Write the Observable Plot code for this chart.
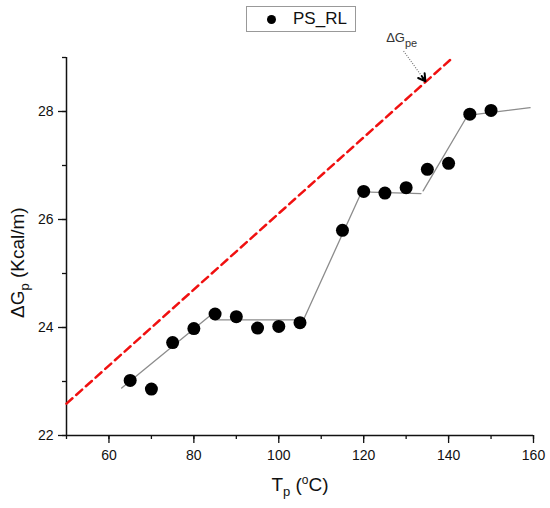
<!DOCTYPE html>
<html>
<head>
<meta charset="utf-8">
<script src="https://cdn.jsdelivr.net/npm/d3@7"></script>
<script src="https://cdn.jsdelivr.net/npm/@observablehq/plot@0.6"></script>
<style>
  body { margin: 0; background: white; }
  #wrap { position: relative; width: 550px; height: 508px; font-family: Arial, "Liberation Sans", sans-serif; }
  #legend {
    position: absolute; left: 246px; top: 6px; width: 108px; height: 24px;
    border: 1px solid #999; display: flex; align-items: center; font-size: 17px; color: #111;
    background: white;
  }
  #legend .sw { width: 9px; height: 9px; border-radius: 50%; background: #000; margin-left: 20px; }
  #legend .lab { margin-left: 17px; }
</style>
</head>
<body>
<div id="wrap">
  <div id="chart"></div>
  <div id="legend"><span class="sw"></span><span class="lab">PS_RL</span></div>
</div>
<script>
// measured points (PS_RL)
const temps = [65, 70, 75, 80, 85, 90, 95, 100, 105, 115, 120, 125, 130, 135, 140, 145, 150];
const dG = [23.02, 22.86, 23.72, 23.98, 24.25, 24.20, 23.99, 24.02, 24.09, 25.80, 26.52, 26.49, 26.59, 26.93, 27.04, 27.95, 28.02];

// piecewise fit drawn in grey
const fitSeg = ["a", "a", "b", "b", "b", "b", "c", "c", "c"];
const fitX = [63, 84, 85, 105.8, 119.5, 133.5, 134, 144.5, 159.2];
const fitY = [22.88, 24.23, 24.14, 24.14, 26.51, 26.48, 26.53, 27.93, 28.07];

// ΔGpe reference line (red dashed)
const peX = [50, 141];
const peY = [22.59, 29.0];

// annotation arrow + label
const arrowFrom = [129.4, 29.12];
const arrowTo = [134.55, 28.56];
const peLabelAt = [125.3, 29.36];
const yLabelAt = 25.2; // y-axis title is not centred on the frame

const xMinor = d3.range(50, 161, 10);
const xMajor = [60, 80, 100, 120, 140, 160];
const yMinor = [22, 23, 24, 25, 26, 27, 28, 29];
const yMajor = [22, 24, 26, 28];

const points = temps.map((t, i) => ({t, g: dG[i]}));
const fit = fitX.map((x, i) => ({x, y: fitY[i], seg: fitSeg[i]}));
const pe = peX.map((x, i) => ({x, y: peY[i]}));
const arrow = [{x1: arrowFrom[0], y1: arrowFrom[1], x2: arrowTo[0], y2: arrowTo[1]}];

const plot = Plot.plot({
  width: 550,
  height: 508,
  marginLeft: 66,
  marginRight: 17,
  marginTop: 57,
  marginBottom: 73,
  x: {domain: [50, 160]},
  y: {domain: [22, 29]},
  style: {
    fontFamily: 'Arial, "Liberation Sans", sans-serif',
    fontSize: 14,
    color: "#111",
    background: "white",
    overflow: "visible",
  },
  marks: [
    Plot.axisX(xMinor, {tickSize: 4, tickFormat: () => "", label: null, strokeWidth: 1.3}),
    Plot.axisX(xMajor, {tickSize: 8, tickPadding: 7, tickFormat: d => String(d), label: null, strokeWidth: 1.3, fontSize: 14}),
    Plot.axisY(yMinor, {tickSize: 4, tickFormat: () => "", label: null, strokeWidth: 1.3}),
    Plot.axisY(yMajor, {tickSize: 8, tickPadding: 5, tickFormat: d => String(d), label: null, strokeWidth: 1.3, fontSize: 14}),
    Plot.ruleX([50], {strokeWidth: 1.5, stroke: "#111"}),
    Plot.ruleY([22], {strokeWidth: 1.5, stroke: "#111"}),
    Plot.line(pe, {x: "x", y: "y", stroke: "#f01010", strokeWidth: 2.5, strokeDasharray: "8 5"}),
    Plot.line(fit, {x: "x", y: "y", z: "seg", stroke: "#8c8c8c", strokeWidth: 1.3}),
    Plot.dot(points, {x: "t", y: "g", r: 6.5, fill: "#000"}),
    Plot.link(arrow, {x1: "x1", y1: "y1", x2: "x2", y2: "y2", stroke: "#777", strokeWidth: 1.2, strokeDasharray: "1 1.5"}),
    Plot.arrow(arrow, {x1: "x1", y1: "y1", x2: "x2", y2: "y2", stroke: "#000", strokeWidth: 2, headLength: 6, insetStart: 31}),
    Plot.text(["ΔGpe"], {x: [peLabelAt[0]], y: [peLabelAt[1]], textAnchor: "start", fontSize: 13, fill: "#333"}),
    Plot.text(["Tp (°C)"], {frameAnchor: "bottom", textAnchor: "middle", dy: 55, fontSize: 19}),
    Plot.text(["ΔGp (Kcal/m)"], {y: [yLabelAt], frameAnchor: "left", textAnchor: "middle", rotate: -90, dx: -49, fontSize: 19}),
  ],
});

// rich text: subscripts / superscripts
const svg = d3.select(plot);
svg.selectAll("text").each(function () {
  const t = d3.select(this);
  const s = this.textContent;
  if (s === "ΔGpe") {
    t.text(null);
    t.append("tspan").text("ΔG");
    t.append("tspan").attr("dy", 5).attr("font-size", 11).text("pe");
  } else if (s === "Tp (°C)") {
    t.text(null);
    t.append("tspan").text("T");
    t.append("tspan").attr("dy", 5).attr("font-size", 13).text("p");
    t.append("tspan").attr("dy", -5).text(" (");
    t.append("tspan").attr("dy", -7).attr("font-size", 12).text("o");
    t.append("tspan").attr("dy", 7).text("C)");
  } else if (s === "ΔGp (Kcal/m)") {
    t.text(null);
    t.append("tspan").text("ΔG");
    t.append("tspan").attr("dy", 5).attr("font-size", 13).text("p");
    t.append("tspan").attr("dy", -5).text(" (Kcal/m)");
  }
});

document.getElementById("chart").append(plot);
</script>
</body>
</html>
